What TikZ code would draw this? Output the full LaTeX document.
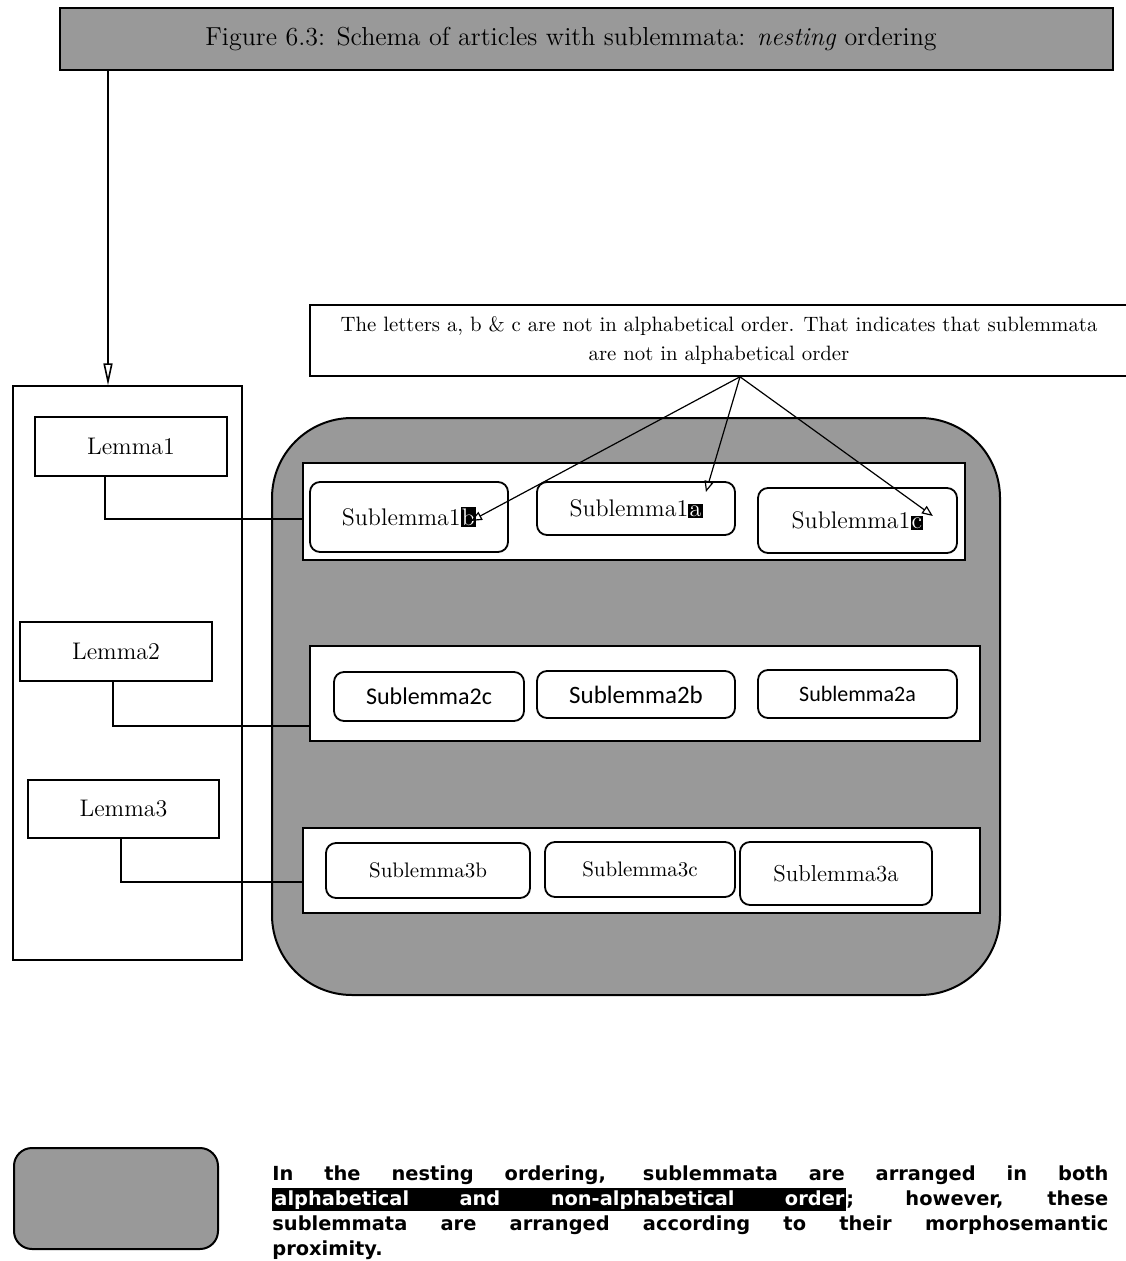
\documentclass[tikz,border=0pt]{standalone}
\usepackage{fontspec}
\newfontfamily\legendfont{DejaVu Sans}
\newfontfamily\calfont{Carlito}
\usetikzlibrary{arrows.meta}
% inverted (highlighted) letter
\newcommand\markletter[1]{{\setlength{\fboxsep}{0.6pt}\colorbox{black}{\textcolor{white}{#1}}}}
\tikzset{
  grainfill/.style={fill=black!40},
  titlebar/.style={draw, line width=1.2pt, grainfill, inner sep=0pt},
  lemmabox/.style={draw, line width=1pt, fill=white, inner sep=0pt,
    font=\fontsize{12}{14}\selectfont},
  rowbox/.style={draw, line width=1.3pt, fill=white, inner sep=0pt},
  subbox/.style={draw, line width=0.9pt, rounded corners=5pt, fill=white,
    inner sep=0pt, font=\fontsize{12}{14}\selectfont},
  notebox/.style={draw, line width=0.8pt, fill=white, inner sep=0pt,
    align=center, font=\fontsize{10.4}{14.5}\selectfont},
  connector/.style={line width=0.8pt},
  pointer/.style={line width=0.6pt, -{Triangle[open, length=5.5pt, width=4.5pt]}},
  droparrow/.style={line width=0.8pt, -{Triangle[open, length=11pt, width=4.5pt]}}
}
\begin{document}
\begin{tikzpicture}[x=0.5pt, y=-0.5pt]
\useasboundingbox (0,0) rectangle (1125,1261);

% caption bar
\node[titlebar, minimum width=526.5pt, minimum height=31pt] (title) at (586.5,39) {};
\node[font=\fontsize{13}{15}\selectfont, inner sep=0pt] (titletext) at (571,39)
  {Figure 6.3: Schema of articles with sublemmata: \textit{nesting} ordering};

% column of lemmata
\node[draw, line width=0.6pt, minimum width=114.5pt, minimum height=287pt, inner sep=0pt]
  (lemcol) at (127.5,673) {};
\node[lemmabox, minimum width=96pt, minimum height=29.5pt] (lem1) at (131,446.5) {Lemma1};
\node[lemmabox, minimum width=96pt, minimum height=29.5pt] (lem2) at (116,651.5) {Lemma2};
\node[lemmabox, minimum width=95.5pt, minimum height=29pt] (lem3) at (123.5,809) {Lemma3};

% shaded area holding the sublemmata
\node[draw, line width=1pt, grainfill, rounded corners=40pt, minimum width=364pt,
  minimum height=288.5pt, inner sep=0pt] (cloud) at (636,706.5) {};

% rows of sublemmata
\node[rowbox, minimum width=331pt, minimum height=48.5pt] (row1) at (634,511.5) {};
\node[rowbox, minimum width=335pt, minimum height=47.5pt] (row2) at (645,693.5) {};
\node[rowbox, minimum width=338.5pt, minimum height=42.5pt] (row3) at (641.5,870.5) {};

\node[subbox, minimum width=99pt, minimum height=35pt] (s1b) at (409,517) {Sublemma1\markletter{b}};
\node[subbox, minimum width=99pt, minimum height=26.5pt] (s1a) at (636,508.5) {Sublemma1\markletter{a}};
\node[subbox, minimum width=99.5pt, minimum height=32.5pt] (s1c) at (857.5,520.5) {Sublemma1\markletter{c}};

\node[subbox, minimum width=95pt, minimum height=24.5pt, font=\calfont\fontsize{12}{14}\selectfont]
  (s2c) at (429,696.5) {Sublemma2c};
\node[subbox, minimum width=99pt, minimum height=23.5pt, font=\calfont\fontsize{12.5}{14}\selectfont]
  (s2b) at (636,694.5) {Sublemma2b};
\node[subbox, minimum width=99.5pt, minimum height=24pt, font=\calfont\fontsize{11}{13}\selectfont]
  (s2a) at (857.5,694) {Sublemma2a};

\node[subbox, minimum width=102pt, minimum height=27.5pt, font=\fontsize{10.5}{13}\selectfont]
  (s3b) at (428,870.5) {Sublemma3b};
\node[subbox, minimum width=95pt, minimum height=27.5pt, font=\fontsize{10.5}{13}\selectfont]
  (s3c) at (640,869.5) {Sublemma3c};
\node[subbox, minimum width=96pt, minimum height=31.5pt, font=\fontsize{11.5}{13}\selectfont]
  (s3a) at (836,873.5) {Sublemma3a};

% explanatory note
\node[notebox, minimum width=409pt, minimum height=35.5pt] (note) at (719,340.5)
  {The letters a, b \& c are not in alphabetical order. That indicates that sublemmata\\
   are not in alphabetical order};

% connectors
\draw[droparrow] ([xshift=-239.25pt]title.south) -- ([xshift=-9.75pt]lemcol.north);
\draw[connector] ([xshift=-13pt]lem1.south) |- ([yshift=-3.75pt]row1.west);
\draw[connector] ([xshift=-1.5pt]lem2.south) |- ([yshift=-16.25pt]row2.west);
\draw[connector] ([xshift=-1.25pt]lem3.south) |- ([yshift=-5.75pt]row3.west);

\draw[pointer] ([xshift=10.5pt]note.south) -- ([xshift=-19pt,yshift=-2pt]s1b.east);
\draw[pointer] ([xshift=10.5pt]note.south) -- ([xshift=-15pt,yshift=8.25pt]s1a.east);
\draw[pointer] ([xshift=10.5pt]note.south) -- ([xshift=-12.5pt,yshift=2.25pt]s1c.east);

% legend
\node[draw, line width=1pt, grainfill, rounded corners=9pt, minimum width=102pt,
  minimum height=50.5pt, inner sep=0pt] (key) at (116,1198.5) {};
\node[anchor=north west, inner sep=0pt, text width=418pt, align=justify,
  font=\legendfont\bfseries\fontsize{9.7}{12.5}\selectfont]
  (keytext) at (272,1165)
  {\makebox[418pt][s]{In the nesting ordering, sublemmata are arranged in both}\\
   \makebox[418pt][s]{{\setlength{\fboxsep}{1pt}\colorbox{black}{\makebox[285pt][s]{\color{white}alphabetical and non-alphabetical order}}}; however, these}\\
   \makebox[418pt][s]{sublemmata are arranged according to their morphosemantic}\\
   proximity.};
\end{tikzpicture}
\end{document}
